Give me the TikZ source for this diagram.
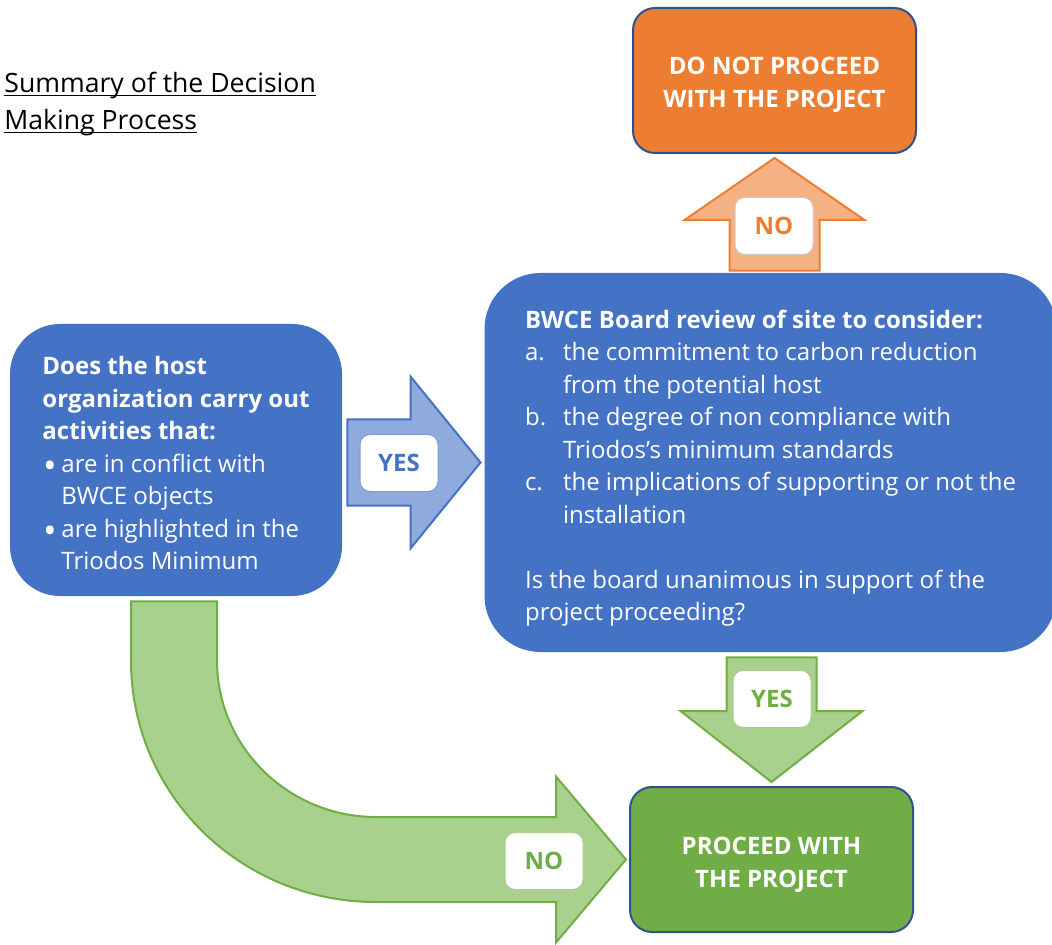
\documentclass[tikz,border=0pt]{standalone}
\usepackage{fontspec}
\setmainfont{Open Sans}
\usetikzlibrary{calc}

\definecolor{boxblue}{HTML}{4472C4}
\definecolor{arrblue}{HTML}{8FAADC}
\definecolor{boxorange}{HTML}{ED7D31}
\definecolor{arrorange}{HTML}{F4B183}
\definecolor{boxgreen}{HTML}{70AD47}
\definecolor{arrgreen}{HTML}{A9D18E}
\definecolor{edgeblue}{HTML}{2F528F}

\newcommand{\bitem}{\makebox[9.5pt][l]{\hspace{0.3pt}\raisebox{-3.4pt}{\fontsize{18}{18}\selectfont\textbullet}}}
\newcommand{\litem}[1]{\makebox[19pt][l]{#1}}
\newcommand{\gap}{\hspace*{19pt}}
\newcommand{\topline}[1]{\rule{0pt}{#1}}

\tikzset{
  txt/.style={font=\fontsize{12}{16.25}\selectfont, text=white},
  question/.style={txt, fill=boxblue, align=left, inner sep=0pt},
  outcome/.style={txt, font=\fontsize{12}{16.5}\selectfont\bfseries, align=center,
    draw=edgeblue, line width=1pt, rounded corners=11pt, inner sep=0pt,
    minimum width=141.5pt, minimum height=72.5pt},
  tag/.style={font=\fontsize{12}{14}\selectfont\bfseries, fill=white, line width=0.5pt,
    rounded corners=5pt, minimum width=39pt, minimum height=28.5pt, inner sep=0pt},
  noarrow/.style={fill=arrorange, draw=boxorange, line width=1pt, line join=miter},
  yesarrow/.style={fill=arrblue, draw=boxblue, line width=1pt, line join=miter},
  okarrow/.style={fill=arrgreen, draw=boxgreen, line width=1pt, line join=miter}
}

\begin{document}
\begin{tikzpicture}[x=0.5pt, y=-0.5pt]
\useasboundingbox (0,0) rectangle (1052,945);

% title
\node[anchor=north west, inner sep=0pt, align=left,
  font=\fontsize{13.3}{18.4}\selectfont] (title) at (4,92)
  {\underline{\smash{Summary of the Decision}}\\ \underline{\smash{Making Process}}};

% decision boxes
\node[question, rounded corners=25pt, minimum width=166pt, minimum height=136pt] (host) at (176,460)
  {\topline{12.2pt}\textbf{Does the host}\\ \textbf{organization carry out}\\ \textbf{activities that:}\\
   \bitem are in conflict with\\ \hspace*{9.5pt}BWCE objects\\
   \bitem are highlighted in the\\ \hspace*{9.5pt}Triodos Minimum};
\node[question, rounded corners=28pt, minimum width=286pt, minimum height=189.5pt] (board) at (770.5,462.5)
  {\topline{15pt}\textbf{BWCE Board review of site to consider:}\\
   \litem{a.}the commitment to carbon reduction\\
   \gap from the potential host\\
   \litem{b.}the degree of non compliance with\\
   \gap Triodos’s minimum standards\\
   \litem{c.}the implications of supporting or not the\\
   \gap installation\\[16.25pt]
   Is the board unanimous in support of the\\
   project proceeding?};
\node[outcome, fill=boxorange] (stop) at (774.5,80.5) {\topline{12.8pt}DO NOT PROCEED\\ WITH THE PROJECT};
\node[outcome, fill=boxgreen] (go) at (771.5,859.5) {\topline{13.6pt}PROCEED WITH\\ THE PROJECT};

% block arrows
\draw[yesarrow] let \p1=([xshift=2.5pt]host.east), \p2=([xshift=-1.8pt]board.west) in
  (\x1,\y2+21.5pt) -- (\x2-35pt,\y2+21.5pt) -- (\x2-35pt,\y2+43pt) -- (\x2,\y2)
  -- (\x2-35pt,\y2-43pt) -- (\x2-35pt,\y2-21.5pt) -- (\x1,\y2-21.5pt) -- cycle;
\draw[noarrow] let \p1=([yshift=1pt]board.north), \p2=([yshift=-2pt]stop.south) in
  (\x2-22.5pt,\y1) -- (\x2-22.5pt,\y2-31pt) -- (\x2-45pt,\y2-31pt) -- (\x2,\y2)
  -- (\x2+45pt,\y2-31pt) -- (\x2+22.5pt,\y2-31pt) -- (\x2+22.5pt,\y1) -- cycle;
\draw[okarrow] let \p1=([yshift=-2.5pt]board.south), \p2=([yshift=2pt]go.north) in
  (\x2-22.5pt,\y1) -- (\x2-22.5pt,\y2+35.5pt) -- (\x2-45.5pt,\y2+35.5pt) -- (\x2,\y2)
  -- (\x2+45.5pt,\y2+35.5pt) -- (\x2+22.5pt,\y2+35.5pt) -- (\x2+22.5pt,\y1) -- cycle;
\draw[okarrow] let \p1=([xshift=-1pt,yshift=-2.5pt]host.south), \p2=([xshift=-1.5pt]go.west),
  \p3=(\x2-125pt,\y1-29.5pt) in
  (\x1-21.5pt,\y1) -- (\x1-21.5pt,\y3) to[out=-90,in=180] (\x3,\y2-21.25pt)
  -- (\x2-35pt,\y2-21.25pt) -- (\x2-35pt,\y2-41.5pt) -- (\x2,\y2)
  -- (\x2-35pt,\y2+41.5pt) -- (\x2-35pt,\y2+21.25pt) -- (\x3,\y2+21.25pt)
  to[out=180,in=-90] (\x1+21.5pt,\y3) -- (\x1+21.5pt,\y1) -- cycle;

% arrow labels
\node[tag, text=boxblue, draw=boxblue!70] (yes1) at (399,463) {YES};
\node[tag, text=boxorange, draw=gray!40] (no1) at (774,226) {NO};
\node[tag, text=boxgreen, draw=boxgreen!60] (yes2) at (772,699) {YES};
\node[tag, text=boxgreen, draw=boxgreen!60] (no2) at (544,861) {NO};
\end{tikzpicture}
\end{document}
